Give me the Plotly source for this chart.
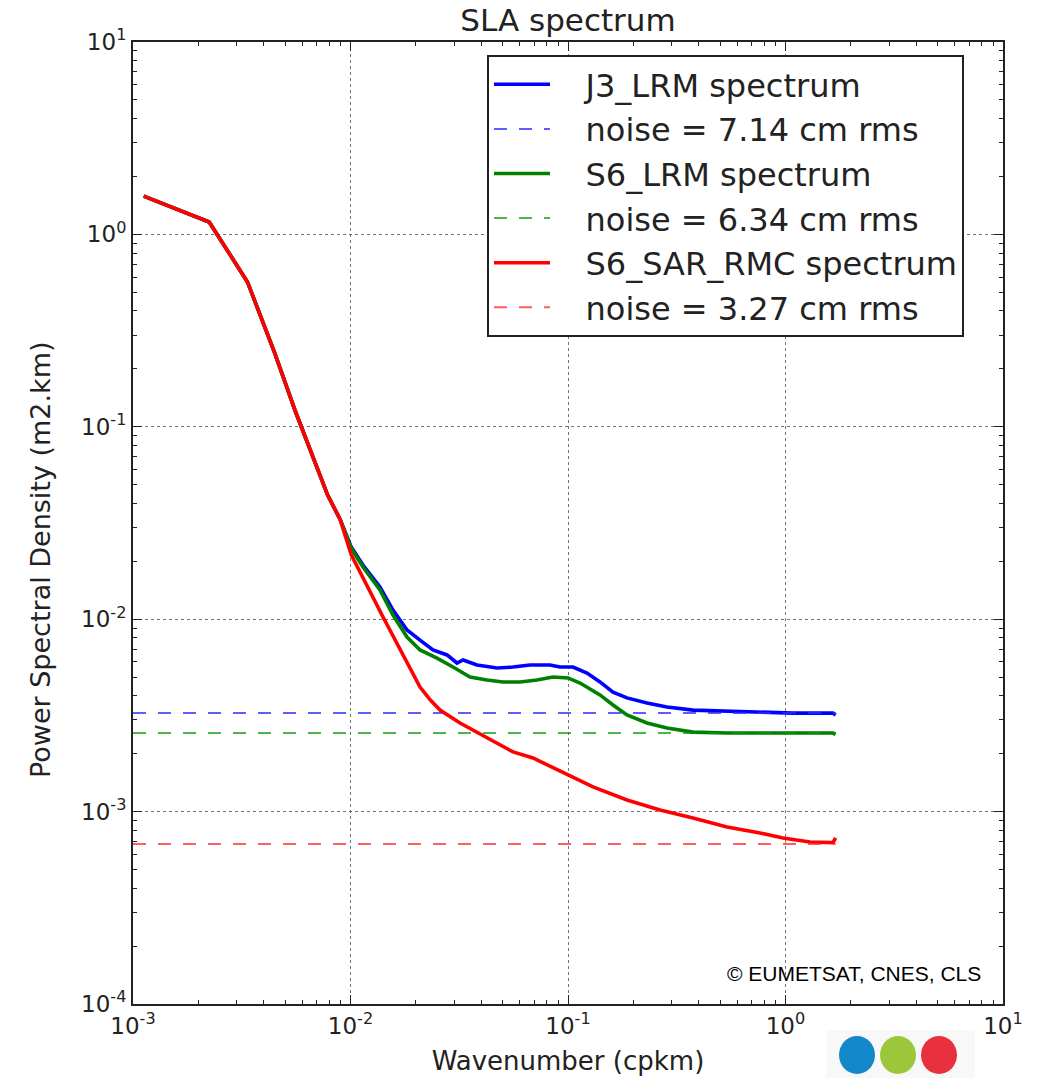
import plotly.graph_objects as go

# ---- data (wavenumber in cpkm, PSD in m2.km) ----
k_common = [0.00112, 0.00224, 0.00336, 0.00448, 0.0056, 0.00672, 0.00784, 0.00896]
psd_common = [1.58, 1.16, 0.566, 0.242, 0.119, 0.0697, 0.0443, 0.0330]

k_j3 = [0.01008, 0.01141, 0.01366, 0.01568, 0.01819, 0.02087, 0.02394, 0.02778, 0.03088,
        0.03291, 0.03817, 0.04717, 0.05585, 0.06688, 0.08264, 0.09189, 0.1054, 0.1223,
        0.1403, 0.161, 0.1867, 0.2308, 0.2851, 0.3756, 0.5383, 0.7636, 1.083, 1.653, 1.70]
psd_j3 = [0.0237, 0.01913, 0.0147, 0.01116, 0.00879, 0.00779, 0.00692, 0.00652, 0.00592,
          0.00614, 0.00578, 0.00558, 0.00564, 0.00578, 0.00578, 0.00564, 0.00564, 0.00525,
          0.00472, 0.00418, 0.00390, 0.00367, 0.00350, 0.00337, 0.00333, 0.00329, 0.00325, 0.00325, 0.00318]

k_s6 = [0.01008, 0.01141, 0.01366, 0.01568, 0.01819, 0.02087, 0.02498, 0.02959, 0.03542,
        0.04241, 0.05025, 0.06016, 0.07202, 0.0853, 0.1, 0.1136, 0.1223, 0.1403, 0.161,
        0.1867, 0.2308, 0.2851, 0.3756, 0.5383, 0.7636, 1.083, 1.653, 1.70]
psd_s6 = [0.0234, 0.01868, 0.01418, 0.01051, 0.00808, 0.00692, 0.00628, 0.00564, 0.00501,
          0.00483, 0.00472, 0.00472, 0.00483, 0.00501, 0.00495, 0.00466, 0.00444, 0.00404, 0.00358,
          0.00318, 0.00289, 0.00272, 0.00259, 0.00256, 0.00256, 0.00256, 0.00256, 0.00252]

k_sar = [0.01008, 0.01411, 0.01689, 0.01900, 0.02087, 0.02330, 0.02579, 0.03187, 0.04241,
         0.05585, 0.06903, 0.1, 0.1303, 0.1867, 0.2649, 0.3756, 0.5383, 0.7636, 0.9739,
         1.296, 1.653, 1.70]
psd_sar = [0.0216, 0.01027, 0.00692, 0.00545, 0.00444, 0.00380, 0.00337, 0.002887, 0.002413,
           0.002042, 0.0019, 0.00155, 0.001343, 0.001149, 0.001019, 0.000926, 0.000832,
           0.000774, 0.000729, 0.000695, 0.000690, 0.000730]

noise_k = [0.001, 1.70]
noise_j3 = 0.00325
noise_s6 = 0.00256
noise_sar = 0.000679

names = ["J3_LRM spectrum", "noise = 7.14 cm rms", "S6_LRM spectrum",
         "noise = 6.34 cm rms", "S6_SAR_RMC spectrum", "noise = 3.27 cm rms"]

x_ticks = [0.001, 0.01, 0.1, 1, 10]
x_labels = ["10<sup>-3</sup>", "10<sup>-2</sup>", "10<sup>-1</sup>", "10<sup>0</sup>", "10<sup>1</sup>"]
y_ticks = [0.0001, 0.001, 0.01, 0.1, 1, 10]
y_labels = ["10<sup>-4</sup>", "10<sup>-3</sup>", "10<sup>-2</sup>", "10<sup>-1</sup>",
            "10<sup>0</sup>", "10<sup>1</sup>"]

FONT = "DejaVu Sans"
PAD = "\u00a0\u00a0\u00a0"


def minor_vals(lo, hi):
    out = []
    for e in range(lo, hi):
        for m in range(2, 10):
            out.append(m * 10.0 ** e)
    return out


fig = go.Figure()

series = [
    (k_common + k_j3, psd_common + psd_j3, "rgb(0,0,255)", noise_j3, "rgba(40,40,255,0.75)"),
    (k_common + k_s6, psd_common + psd_s6, "rgb(0,128,0)", noise_s6, "rgba(0,150,0,0.7)"),
    (k_common + k_sar, psd_common + psd_sar, "rgb(255,0,0)", noise_sar, "rgba(255,40,40,0.75)"),
]
for i, (kx, py, col, nl, ncol) in enumerate(series):
    fig.add_trace(go.Scatter(x=kx, y=py, mode="lines", name=PAD + names[2 * i],
                             legendgroup=f"g{2*i}",
                             line=dict(color=col, width=3.6)))
    fig.add_trace(go.Scatter(x=noise_k, y=[nl, nl], mode="lines", name=PAD + names[2 * i + 1],
                             legendgroup=f"g{2*i+1}",
                             line=dict(color=ncol, width=2, dash="13px,12px")))

axis_common = dict(
    type="log", showline=True, linecolor="#222", linewidth=2, mirror="allticks",
    ticks="inside", ticklen=9, tickwidth=1.2, tickcolor="#222",
    showgrid=True, gridcolor="rgba(80,80,80,0.8)", griddash="dot", gridwidth=1.2,
    zeroline=False, automargin=False,
    tickfont=dict(family=FONT, size=23, color="#222"),
)

fig.update_xaxes(range=[-3, 1], tickvals=x_ticks, ticktext=x_labels, **axis_common,
                 minor=dict(tickvals=minor_vals(-3, 1), ticks="inside", ticklen=4,
                            tickcolor="#222", showgrid=False),
                 title=dict(text="Wavenumber (cpkm)", font=dict(family=FONT, size=26, color="#222"),
                            standoff=14))
fig.update_yaxes(range=[-4, 1], tickvals=y_ticks, ticktext=y_labels, **axis_common,
                 minor=dict(tickvals=minor_vals(-4, 1), ticks="inside", ticklen=4,
                            tickcolor="#222", showgrid=False))

W, H = 1038, 1078
L, R, T, B = 133, 35, 42, 74
PW, PH = W - L - R, H - T - B


def px2paper(x, y):
    return (x - L) / PW, (H - B - y) / PH


# y-axis title as rotated text placed where the reference shows it
yx, yy = px2paper(40, 560)
fig.add_annotation(x=yx, y=yy, xref="paper", yref="paper",
                   text="Power Spectral Density (m2.km)", textangle=-90, showarrow=False,
                   xanchor="center", yanchor="middle",
                   font=dict(family=FONT, size=27, color="#222"))

# copyright
cx_, cy_ = px2paper(983, 973)
fig.add_annotation(x=cx_, y=cy_, xref="paper", yref="paper", text="© EUMETSAT, CNES, CLS",
                   showarrow=False, xanchor="right", yanchor="middle",
                   font=dict(family="Liberation Sans Narrow, Liberation Sans", size=21, color="black"))

# logo background and circles
bx0, by0 = px2paper(826, 1078)
bx1, by1 = px2paper(975, 1030)
fig.add_shape(type="rect", xref="paper", yref="paper", x0=bx0, y0=by0, x1=bx1, y1=by1,
              line=dict(width=0), fillcolor="rgba(248,248,248,1)", layer="above")
for cx, colr in [(857, "#1487c8"), (898, "#9cc73a"), (939, "#e8303f")]:
    x0, y0 = px2paper(cx - 18, 1055 + 19)
    x1, y1 = px2paper(cx + 18, 1055 - 19)
    fig.add_shape(type="circle", xref="paper", yref="paper", x0=x0, y0=y0, x1=x1, y1=y1,
                  line=dict(width=0), fillcolor=colr, layer="above")

lx, ly = px2paper(487, 55)
fig.update_layout(
    width=W, height=H,
    margin=dict(l=L, r=R, t=T, b=B),
    paper_bgcolor="white", plot_bgcolor="white",
    title=dict(text="SLA spectrum", x=(L + PW / 2) / W, xanchor="center", y=1 - 20 / H,
               yanchor="middle", font=dict(family=FONT, size=31, color="#222")),
    legend=dict(x=lx, y=ly, xanchor="left", yanchor="top", bgcolor="white",
                bordercolor="#222", borderwidth=2, tracegroupgap=0,
                font=dict(family=FONT, size=32, color="#222"), itemwidth=56),
    showlegend=True,
)

fig.write_html("out.html")
